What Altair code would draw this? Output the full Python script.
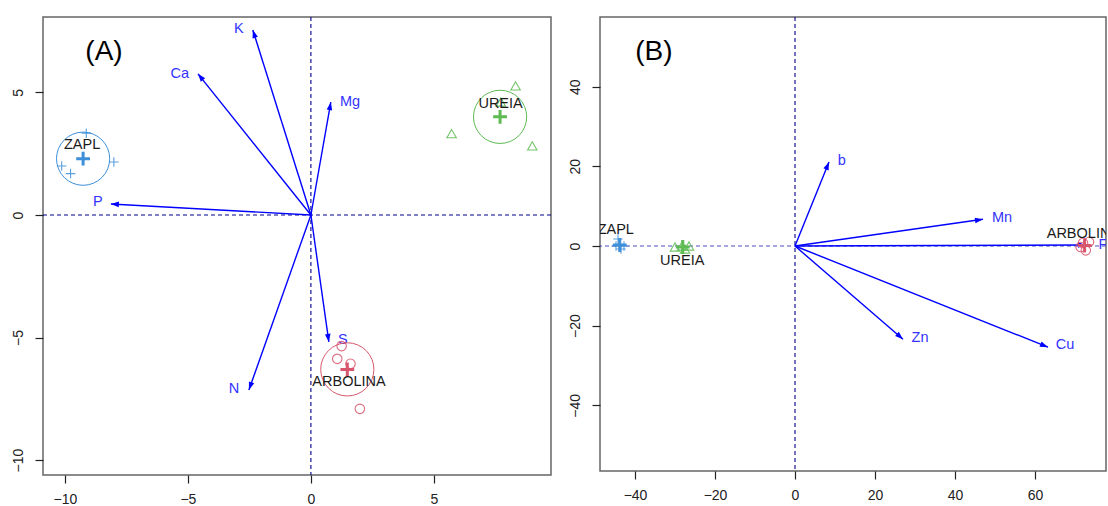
import altair as alt
import pandas as pd

# ---------------- Panel A: macronutrients ----------------
a_var = ["K", "Ca", "Mg", "P", "N", "S"]
a_var_x = [-2.36, -4.59, 0.81, -8.13, -2.52, 0.73]
a_var_y = [7.55, 5.76, 4.61, 0.45, -7.14, -5.18]
a_var_lab_x = [-2.93, -5.33, 1.59, -8.66, -3.13, 1.30]
a_var_lab_y = [7.59, 5.76, 4.61, 0.53, -7.10, -5.10]

a_obs_group = ["ZAPL"] * 4 + ["UREIA"] * 4 + ["ARBOLINA"] * 4
a_obs_x = [-9.13, -10.13, -9.77, -8.01, 8.32, 5.72, 9.00, 7.72, 1.25, 1.07, 1.61, 1.99]
a_obs_y = [3.34, 2.00, 1.69, 2.16, 5.27, 3.32, 2.82, 4.61, -5.35, -5.87, -6.07, -7.91]

groups = ["ZAPL", "UREIA", "ARBOLINA"]
a_grp_lab_x = [-9.30, 7.71, 1.55]
a_grp_lab_y = [2.84, 4.52, -6.82]

# ---------------- Panel B: micronutrients ----------------
b_var = ["b", "Mn", "Zn", "Cu", "Fe"]
b_var_x = [8.5, 47.0, 27.0, 63.25, 72.75]
b_var_y = [21.1, 6.7, -23.4, -25.4, 0.25]
b_var_lab_x = [11.7, 51.75, 31.25, 67.5, 78.0]
b_var_lab_y = [21.3, 7.0, -23.1, -24.9, 0.25]

b_obs_group = ["ZAPL"] * 4 + ["UREIA"] * 4 + ["ARBOLINA"] * 4
b_obs_x = [-44.25, -43.5, -44.75, -42.75, -30.0, -28.25, -26.5, -27.5, 71.4, 72.7, 73.5, 72.0]
b_obs_y = [1.76, -0.75, 0.0, 0.0, -0.25, 0.0, 0.0, -0.75, -0.25, -1.1, 1.0, 0.75]

b_grp_lab_x = [-44.8, -28.2, 72.1]
b_grp_lab_y = [3.94, -3.85, 3.1]

group_colors = ["#3d8fd9", "#5dbb52", "#d8566d"]

FONT = "Liberation Sans"
PLUS = "M-1,0L1,0M0,-1L0,1"
HEAD = "M0,0L-0.35,1L0.35,1Z"


def panel(tag, tag_x, tag_y, var, vx, vy, lx, ly, og, ox, oy, glx, gly,
          xdom, ydom, xticks, yticks, w, h, hline_color, rings):
    vars_df = pd.DataFrame({"var": var, "x": vx, "y": vy, "lx": lx, "ly": ly})
    obs_df = pd.DataFrame({"group": og, "x": ox, "y": oy})
    lab_df = pd.DataFrame({"group": groups, "lx": glx, "ly": gly})
    tag_df = pd.DataFrame({"tag": [tag], "tx": [tag_x], "ty": [tag_y]})

    sx = alt.Scale(domain=xdom, nice=False, zero=False)
    sy = alt.Scale(domain=ydom, nice=False, zero=False)
    ax = alt.Axis(values=xticks, title=None, grid=False, domain=False,
                  tickSize=8, labelPadding=9)
    ay = alt.Axis(values=yticks, title=None, grid=False, domain=False,
                  tickSize=8, labelPadding=10, labelAngle=270,
                  labelAlign="center", labelBaseline="bottom")

    def X(field):
        return alt.X(field, type="quantitative", scale=sx, axis=ax)

    def Y(field):
        return alt.Y(field, type="quantitative", scale=sy, axis=ay)

    color = alt.Color("group:N", scale=alt.Scale(domain=groups, range=group_colors),
                      legend=None)
    shape = alt.Shape("group:N", scale=alt.Scale(domain=groups,
                      range=[PLUS, "triangle-up", "circle"]), legend=None)

    # reference lines through the origin
    origin = alt.Chart(pd.DataFrame({"o": [0.0]}))
    vline = origin.mark_rule(color="#00008b", strokeDash=[4, 3], strokeWidth=1.1).encode(
        x=X("o"))
    hline = origin.mark_rule(color=hline_color, strokeDash=[4, 3], strokeWidth=1.1).encode(
        y=Y("o"))

    # variable arrows
    vbase = alt.Chart(vars_df).transform_calculate(x0="0", y0="0")
    shafts = vbase.mark_rule(color="#0000ff", strokeWidth=1.4, clip=True).encode(
        x=X("x0"), y=Y("y0"), x2="x:Q", y2="y:Q")
    heads = vbase.transform_calculate(
        ang="(atan2(datum.x, datum.y) * 180 / PI + 360) % 360"
    ).mark_point(shape=HEAD, filled=True, size=256, color="#0000ff",
                 opacity=1, clip=True).encode(
        x=X("x"), y=Y("y"), angle=alt.Angle("ang:Q", scale=None))
    vlabels = vbase.mark_text(color="#3333ff", font=FONT, fontSize=14.5,
                              clip=True).encode(
        x=X("lx"), y=Y("ly"), text="var:N")

    # observations and group centroids
    obase = alt.Chart(obs_df)
    points = obase.mark_point(filled=False, size=90, strokeWidth=1.1,
                              opacity=0.85, clip=True).encode(
        x=X("x"), y=Y("y"), color=color, shape=shape)
    cent = obase.transform_aggregate(
        cx="mean(x)", cy="mean(y)", groupby=["group"]
    )
    centroids = cent.mark_point(shape=PLUS, filled=False, size=190,
                                strokeWidth=3, opacity=1, clip=True).encode(
        x=X("cx"), y=Y("cy"), color=color)

    layers = [vline, hline, shafts, heads, vlabels, points, centroids]
    if rings:
        ring = cent.mark_point(shape="circle", filled=False, size=2830,
                               strokeWidth=1, opacity=1, clip=True).encode(
            x=X("cx"), y=Y("cy"), color=color)
        layers.append(ring)

    glabels = alt.Chart(lab_df).mark_text(color="#1a1a1a", font=FONT,
                                          fontSize=14.5, clip=True).encode(
        x=X("lx"), y=Y("ly"), text="group:N")
    tag_mark = alt.Chart(tag_df).mark_text(font=FONT, fontSize=28,
                                           color="black").encode(
        x=X("tx"), y=Y("ty"), text="tag:N")
    layers += [glabels, tag_mark]
    return alt.layer(*layers).properties(width=w, height=h)


panel_a = panel("(A)", -8.41, 6.65, a_var, a_var_x, a_var_y, a_var_lab_x, a_var_lab_y,
                a_obs_group, a_obs_x, a_obs_y, a_grp_lab_x, a_grp_lab_y,
                [-10.89, 9.76], [-10.61, 8.08], [-10, -5, 0, 5], [-10, -5, 0, 5],
                508, 458, "#00008b", True)

panel_b = panel("(B)", -35.3, 48.6, b_var, b_var_x, b_var_y, b_var_lab_x, b_var_lab_y,
                b_obs_group, b_obs_x, b_obs_y, b_grp_lab_x, b_grp_lab_y,
                [-48.75, 77.75], [-56.5, 57.5], [-40, -20, 0, 20, 40, 60],
                [-40, -20, 0, 20, 40], 506, 454, "#5050c0", False)

chart = alt.hconcat(panel_a, panel_b, spacing=49, bounds="flush").configure_view(
    stroke="#666666", strokeWidth=1.5
).configure_axis(
    labelFont=FONT, labelFontSize=14, labelColor="#222222", tickColor="#222222",
    tickWidth=1.2
).properties(
    padding={"left": 10, "top": 15, "right": 0, "bottom": 0},
    background="white"
)

chart.save("out.html", embed_options={"renderer": "svg", "actions": False})
